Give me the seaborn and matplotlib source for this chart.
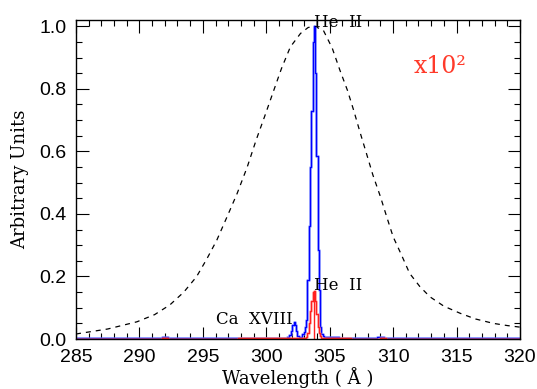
import numpy as np
import pandas as pd
import seaborn as sns
import matplotlib.pyplot as plt
from matplotlib.ticker import MultipleLocator

# instrument response (dashed)
resp_wave = [285.0, 285.3, 287.5, 289.8, 291.2, 292.4, 293.5, 294.5, 295.3, 296.1, 296.9,
             297.7, 298.5, 299.2, 299.9, 300.6, 301.2, 301.9, 302.7, 303.3, 303.8,
             304.5, 305.2, 305.8, 306.4, 306.9, 307.4, 307.9, 308.4, 309.0, 309.5,
             310.0, 310.7, 311.3, 312.1, 312.9, 314.0, 315.3, 316.5, 317.9, 319.0, 320.0]
resp_val = [0.016, 0.018, 0.032, 0.055, 0.078, 0.109, 0.150, 0.199, 0.255, 0.316, 0.390,
            0.465, 0.550, 0.636, 0.715, 0.796, 0.865, 0.934, 0.977, 0.996, 1.000,
            0.987, 0.930, 0.860, 0.795, 0.730, 0.660, 0.593, 0.525, 0.455, 0.390,
            0.327, 0.265, 0.210, 0.168, 0.135, 0.105, 0.082, 0.064, 0.050, 0.043, 0.038]

# synthetic spectrum (blue), normalised to He II peak
spec_wave = [285.0, 290.0, 291.5, 292.0, 292.5, 295.0, 300.0, 301.5, 301.7, 301.9, 302.0,
             302.1, 302.2, 302.3, 302.4, 302.5, 302.6, 302.7, 302.8, 302.9, 303.0,
             303.1, 303.2, 303.3, 303.4, 303.5, 303.6, 303.7, 303.8, 303.9, 304.0,
             304.1, 304.2, 304.3, 304.4, 304.5, 304.6, 305.0, 305.5, 306.0, 308.5,
             309.0, 309.5, 312.0, 316.0, 320.0]
spec_val = [0.002, 0.002, 0.004, 0.005, 0.004, 0.002, 0.002, 0.003, 0.005, 0.012, 0.025,
            0.045, 0.055, 0.045, 0.025, 0.010, 0.005, 0.004, 0.008, 0.015, 0.022,
            0.040, 0.060, 0.190, 0.360, 0.550, 0.730, 0.950, 1.000, 0.850, 0.585,
            0.284, 0.157, 0.040, 0.015, 0.010, 0.008, 0.006, 0.006, 0.004, 0.004,
            0.007, 0.004, 0.002, 0.002, 0.002]

# He II contribution x100 (red)
heii_wave = [285.0, 291.5, 292.0, 292.5, 303.0, 303.2, 303.3, 303.4, 303.5, 303.6, 303.7,
             303.8, 303.9, 304.0, 304.1, 304.2, 304.3, 304.4, 304.6, 308.8, 309.2,
             309.6, 320.0]
heii_val = [0.001, 0.001, 0.004, 0.001, 0.002, 0.005, 0.020, 0.050, 0.090, 0.120, 0.150,
            0.155, 0.120, 0.080, 0.040, 0.020, 0.010, 0.004, 0.002, 0.001, 0.004,
            0.001, 0.001]

heii_rest = 303.78

resp = pd.DataFrame({'wave': resp_wave, 'val': resp_val})
spec = pd.DataFrame({'wave': spec_wave, 'val': spec_val})
heii = pd.DataFrame({'wave': heii_wave, 'val': heii_val})

sns.set_style('ticks')
plt.rcParams['font.family'] = ['Liberation Sans', 'DejaVu Sans']
plt.rcParams['text.color'] = 'black'
plt.rcParams['axes.labelcolor'] = 'black'
plt.rcParams['xtick.color'] = 'black'
plt.rcParams['ytick.color'] = 'black'

fig = plt.figure(figsize=(5.37, 3.89), dpi=100)
ax = fig.add_axes([0.1415, 0.1285, 0.8268, 0.8201])

sns.lineplot(data=resp, x='wave', y='val', ax=ax, color='black', lw=0.9,
             linestyle=(0, (4, 4)))
sns.lineplot(data=spec, x='wave', y='val', ax=ax, color='#6f80ff', lw=2.0,
             drawstyle='steps-mid', alpha=0.7)
sns.lineplot(data=spec, x='wave', y='val', ax=ax, color='#0000ff', lw=0.9,
             drawstyle='steps-mid')
sns.lineplot(data=heii, x='wave', y='val', ax=ax, color='#ff8080', lw=1.8,
             drawstyle='steps-mid', alpha=0.7)
sns.lineplot(data=heii, x='wave', y='val', ax=ax, color='#ff2020', lw=0.9,
             drawstyle='steps-mid')
ax.vlines(heii_rest, 0, max(heii_val), color='#ff2020', lw=1.0)

serif = ['DejaVu Serif']
ax.text(303.75, 0.985, 'He  II', family=serif, fontsize=12, va='bottom', ha='left')
ax.text(303.75, 0.145, 'He  II', family=serif, fontsize=12, va='bottom', ha='left')
ax.text(302.1, 0.035, 'Ca  XVIII', family=serif, fontsize=12, va='bottom', ha='right')
ax.text(311.6, 0.87, 'x10²', family=serif, fontsize=17, color='#ff3a2a',
        va='center', ha='left')

ax.set_xlim(285, 320)
ax.set_ylim(0, 1.02)
ax.xaxis.set_major_locator(MultipleLocator(5))
ax.xaxis.set_minor_locator(MultipleLocator(1))
ax.yaxis.set_major_locator(MultipleLocator(0.2))
ax.yaxis.set_minor_locator(MultipleLocator(0.05))
ax.yaxis.set_major_formatter(plt.FuncFormatter(lambda v, p: f'{v:.1f}'))
ax.tick_params(which='both', direction='in', top=True, right=True, color='black',
               labelcolor='black', labelsize=14, width=0.8)
ax.tick_params(which='major', length=9, pad=7)
ax.tick_params(which='minor', length=4.5)
for s in ax.spines.values():
    s.set_linewidth(1.0)
    s.set_color('black')

ax.set_xlabel('Wavelength ( Å )', family=serif, fontsize=13, labelpad=1)
ax.set_ylabel('Arbitrary Units', family=serif, fontsize=13, labelpad=7)

fig.savefig('out.png', dpi=100)
